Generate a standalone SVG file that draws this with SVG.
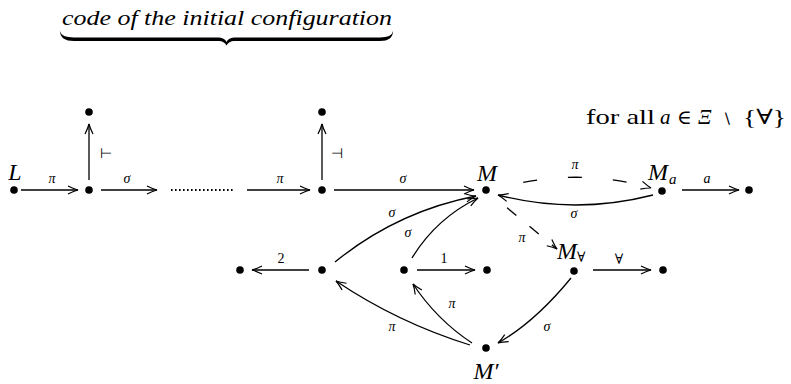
<svg xmlns="http://www.w3.org/2000/svg" width="791" height="384" viewBox="0 0 791 384">
<style>
.e{fill:none;stroke:#000;stroke-width:1.3}
.d{fill:#000}
.m{font-family:"Liberation Serif","DejaVu Serif",serif;font-style:italic;fill:#000}
.r{font-family:"Liberation Serif","DejaVu Serif",serif;fill:#000}
.s{font-family:"DejaVu Sans",sans-serif;fill:#000}
.lb{font-size:14px;text-anchor:middle}
.big{font-size:24px}
</style>
<defs>
<marker id="ah" markerUnits="userSpaceOnUse" viewBox="-12 -6 14 12" refX="0" refY="0" markerWidth="14" markerHeight="12" orient="auto" overflow="visible">
<path d="M-10,-4 Q-4,-1 0,0 Q-4,1 -10,4" fill="none" stroke="#000" stroke-width="1.2"/>
</marker>
</defs>
<rect width="791" height="384" fill="#fff"/>
<g id="title">
<text class="m" x="62" y="25" font-size="20" textLength="330" lengthAdjust="spacingAndGlyphs">code of the initial configuration</text>
<path class="d" d="M60,31 Q61,37.5 74,37.5 L219,37.5 Q225,38 226.5,42 Q228,38 234,37.5 L380,37.5 Q392,37.5 393,31 Q393,41 380,41 L234,41 Q229,41 226.5,45.5 Q224,41 219,41 L74,41 Q60,41 60,31 Z"/>
</g>
<g id="note">
<text class="r" x="586" y="124" font-size="21" textLength="69" lengthAdjust="spacingAndGlyphs">for all</text>
<text class="m" x="660" y="124" font-size="21">a</text>
<text class="r" x="677" y="124" font-size="20">∈</text>
<text class="m" x="698" y="124" font-size="21">Ξ</text>
<text class="s" x="722" y="124" font-size="15">∖</text>
<text class="r" x="743" y="124" font-size="21" textLength="43" lengthAdjust="spacingAndGlyphs">{∀}</text>
</g>
<g id="connectors">
<path class="e" d="M21,190 H78" marker-end="url(#ah)"/>
<path class="e" d="M89,180 V124" marker-end="url(#ah)"/>
<path class="e" d="M101,190 H157" marker-end="url(#ah)"/>
<path d="M171,190 H234" fill="none" stroke="#000" stroke-width="2" stroke-dasharray="1.6 2.4"/>
<path class="e" d="M247,190 H310" marker-end="url(#ah)"/>
<path class="e" d="M322,180 V124" marker-end="url(#ah)"/>
<path class="e" d="M334,190 H474" marker-end="url(#ah)"/>
<path class="e" d="M496,189 Q575,166 651,188" stroke-dasharray="14 31" stroke-dashoffset="17" marker-end="url(#ah)"/>
<path class="e" d="M653,195 Q575,215 498,195" marker-end="url(#ah)"/>
<path class="e" d="M682,190 H739" marker-end="url(#ah)"/>
<path class="e" d="M494,197 L557,249" stroke-dasharray="12 17" stroke-dashoffset="12" marker-end="url(#ah)"/>
<path class="e" d="M593,270 H651" marker-end="url(#ah)"/>
<path class="e" d="M571,278 Q535,322 498,343" marker-end="url(#ah)"/>
<path class="e" d="M309,270 H252" marker-end="url(#ah)"/>
<path class="e" d="M417,270 H475" marker-end="url(#ah)"/>
<path class="e" d="M335,262 Q397,211.5 476,196" marker-end="url(#ah)"/>
<path class="e" d="M412,258 Q436,218.5 478,198" marker-end="url(#ah)"/>
<path class="e" d="M472,343 Q437,320 413,284" marker-end="url(#ah)"/>
<path class="e" d="M470,345 Q397.5,322.5 336,281" marker-end="url(#ah)"/>
</g>
<g id="edge-labels">
<text class="m lb" x="52" y="183">π</text>
<text class="s lb" x="106" y="158" font-size="13">⊢</text>
<text class="m lb" x="127" y="183">σ</text>
<text class="m lb" x="280" y="183">π</text>
<text class="s lb" x="337" y="158" font-size="13">⊣</text>
<text class="m lb" x="403" y="183">σ</text>
<text class="m lb" x="575" y="169">π</text>
<text class="m lb" x="574" y="218">σ</text>
<text class="m lb" x="707" y="183">a</text>
<text class="m lb" x="522" y="242">π</text>
<text class="r lb" x="619" y="264">∀</text>
<text class="m lb" x="547" y="331">σ</text>
<text class="m lb" x="392" y="217">σ</text>
<text class="m lb" x="408" y="237">σ</text>
<text class="r lb" x="281" y="263">2</text>
<text class="r lb" x="444" y="263">1</text>
<text class="m lb" x="452" y="308">π</text>
<text class="m lb" x="392" y="331">π</text>
</g>
<g id="n-L"><circle class="d" cx="14" cy="190" r="3.8"/><text class="m big" x="15" y="180" text-anchor="middle">L</text></g>
<g id="n-A1"><circle class="d" cx="89" cy="190" r="3.8"/></g>
<g id="n-T1"><circle class="d" cx="89" cy="112" r="3.8"/></g>
<g id="n-A2"><circle class="d" cx="322" cy="190" r="3.8"/></g>
<g id="n-T2"><circle class="d" cx="322" cy="112" r="3.8"/></g>
<g id="n-M"><circle class="d" cx="486" cy="190" r="3.8"/><text class="m big" x="487" y="181" text-anchor="middle">M</text></g>
<g id="n-Ma"><circle class="d" cx="662" cy="191" r="3.8"/><text class="m big" x="648" y="180">M</text><text class="m" x="669" y="184" font-size="15">a</text></g>
<g id="n-Ma2"><circle class="d" cx="749" cy="190" r="3.8"/></g>
<g id="n-B1"><circle class="d" cx="240" cy="270" r="3.8"/></g>
<g id="n-B2"><circle class="d" cx="322" cy="270" r="3.8"/></g>
<g id="n-B3"><circle class="d" cx="404" cy="270" r="3.8"/></g>
<g id="n-B4"><circle class="d" cx="487" cy="270" r="3.8"/></g>
<g id="n-Mall"><circle class="d" cx="574" cy="271" r="3.8"/><text class="m big" x="557" y="259">M</text><text class="r" x="577" y="262" font-size="14">∀</text></g>
<g id="n-Mall2"><circle class="d" cx="663" cy="270" r="3.8"/></g>
<g id="n-Mp"><circle class="d" cx="486" cy="348" r="3.8"/><text class="m big" x="486" y="379" text-anchor="middle">M′</text></g>
</svg>
